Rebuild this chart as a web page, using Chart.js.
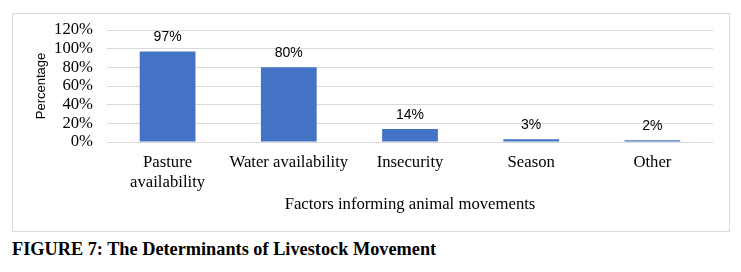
<!DOCTYPE html>
<html>
<head>
<meta charset="utf-8">
<script src="https://cdn.jsdelivr.net/npm/chart.js@4.4.1/dist/chart.umd.min.js"></script>
<style>
  body { margin: 0; background: #fff; width: 741px; height: 272px; position: relative; overflow: hidden; }
  #box { position: absolute; left: 12px; top: 13px; width: 718px; height: 219px; border: 1px solid #d9d9d9; box-sizing: border-box; }
  #wrap { position: relative; width: 716px; height: 217px; }
  #caption { position: absolute; left: 12px; top: 240px; font: bold 18.3px "Liberation Serif", serif; line-height: 18px; color: #000; white-space: nowrap; }
</style>
</head>
<body>
<div id="box"><div id="wrap"><canvas id="chartMove"></canvas></div></div>
<div id="caption">FIGURE 7: The Determinants of Livestock Movement</div>
<script>
const factors = [["Pasture", "availability"], "Water availability", "Insecurity", "Season", "Other"];
const percentages = [97, 80, 14, 3, 2];
const yTicks = [0, 20, 40, 60, 80, 100, 120];

const barBlue = '#4472C4';
const gridGrey = '#d9d9d9';
const serifFont = '"Liberation Serif", serif';

// draws the value above each bar (no datalabels plugin here)
const valueLabels = {
  id: 'valueLabels',
  afterDatasetsDraw(chart) {
    const ctx = chart.ctx;
    const meta = chart.getDatasetMeta(0);
    ctx.save();
    ctx.font = '14px "Liberation Sans", sans-serif';
    ctx.fillStyle = '#000';
    ctx.textAlign = 'center';
    ctx.textBaseline = 'alphabetic';
    meta.data.forEach((bar, i) => {
      ctx.fillText(percentages[i] + '%', bar.x, bar.y - 10);
    });
    ctx.restore();
  }
};

const ctxM = document.getElementById('chartMove');
const config = {
  type: 'bar',
  data: {
    labels: factors,
    datasets: [{
      data: percentages,
      backgroundColor: barBlue,
      borderWidth: 0,
      categoryPercentage: 1,
      barPercentage: 0.46
    }]
  },
  options: {
    responsive: true,
    maintainAspectRatio: false,
    animation: false,
    layout: { padding: { left: 16, right: 16, top: 16, bottom: 10 } },
    plugins: {
      legend: { display: false },
      tooltip: { enabled: false }
    },
    scales: {
      x: {
        grid: { display: false },
        border: { display: false },
        ticks: {
          color: '#000',
          padding: 3,
          maxRotation: 0,
          autoSkip: false,
          font: { family: serifFont, size: 16.7, lineHeight: 1.2 }
        },
        title: {
          display: true,
          text: 'Factors informing animal movements',
          color: '#000',
          padding: { top: 0, bottom: 6 },
          font: { family: serifFont, size: 16.7 }
        },
        afterFit: (scale) => { scale.height = 79; scale.paddingLeft = 0; scale.paddingRight = 0; }
      },
      y: {
        min: 0,
        max: 120,
        afterBuildTicks: (scale) => { scale.ticks = yTicks.map(v => ({ value: v })); },
        grid: { color: gridGrey, drawTicks: false },
        border: { display: false },
        ticks: {
          color: '#000',
          padding: 14,
          autoSkip: false,
          callback: (v) => v + '%',
          font: { family: serifFont, size: 16.7 }
        },
        title: {
          display: true,
          text: 'Percentage',
          color: '#000',
          padding: { top: 5, bottom: 0 },
          font: { family: '"Liberation Sans", sans-serif', size: 13 }
        },
        afterFit: (scale) => { scale.width = 78; scale.paddingTop = 0; scale.paddingBottom = 0; }
      }
    }
  },
  plugins: [valueLabels]
};

const movementChart = new Chart(ctxM, config);
</script>
</body>
</html>
